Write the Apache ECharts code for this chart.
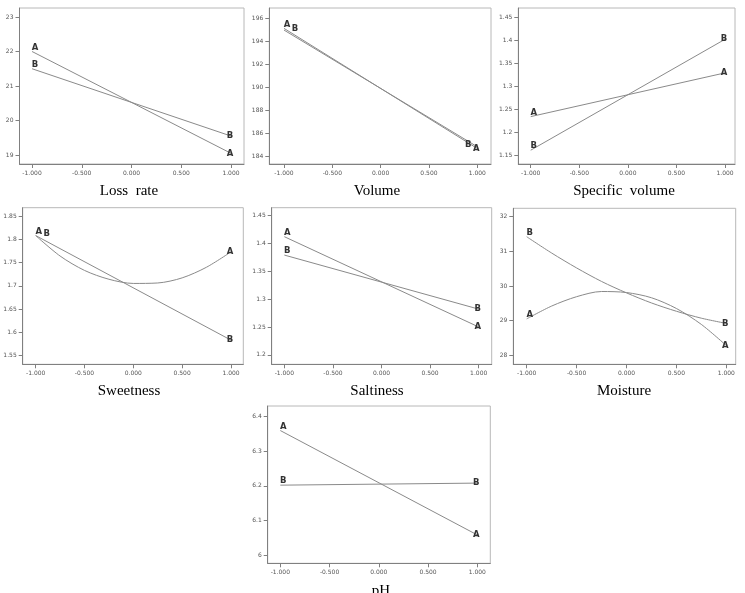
<!DOCTYPE html>
<html><head><meta charset="utf-8">
<script src="https://cdn.jsdelivr.net/npm/echarts@6/dist/echarts.min.js"></script>
<style>html,body{margin:0;padding:0;background:#fff}#c{width:745px;height:593px}</style>
</head><body><div id="c"></div>
<script>
// ---- data ----
const xEnds = [-1, 1];
const xCurve = [-1, -0.75, -0.5, -0.25, 0, 0.25, 0.5, 0.75, 1];
const xTicks = [-1, -0.5, 0, 0.5, 1];
const titles = ['Loss  rate', 'Volume', 'Specific  volume', 'Sweetness', 'Saltiness', 'Moisture', 'pH'];

const lossA = [22.0, 19.05];
const lossB = [21.5, 19.55];
const volA = [195.1, 184.65];
const volB = [194.95, 184.8];
const specA = [1.234, 1.329];
const specB = [1.161, 1.402];
const sweetA = [1.808, 1.764, 1.733, 1.714, 1.705, 1.706, 1.717, 1.740, 1.773];
const sweetB = [1.808, 1.583];
const saltA = [1.412, 1.250];
const saltB = [1.379, 1.282];
const moistA = [29.05, 29.42, 29.69, 29.84, 29.81, 29.66, 29.35, 28.89, 28.28];
const moistB = [31.42, 30.95, 30.52, 30.13, 29.80, 29.51, 29.27, 29.07, 28.92];
const phA = [6.36, 6.058];
const phB = [6.202, 6.208];

const yTicksLoss = [19, 20, 21, 22, 23];
const yTicksVol = [184, 186, 188, 190, 192, 194, 196];
const yTicksSpec = [1.15, 1.2, 1.25, 1.3, 1.35, 1.4, 1.45];
const yTicksSweet = [1.55, 1.6, 1.65, 1.7, 1.75, 1.8, 1.85];
const yTicksSalt = [1.2, 1.25, 1.3, 1.35, 1.4, 1.45];
const yTicksMoist = [28, 29, 30, 31, 32];
const yTicksPh = [6, 6.1, 6.2, 6.3, 6.4];

// ---- layout ----
const panels = [
  {box:[19.5, 8, 244, 164],   xr:[-1.126, 1.131], yr:[18.74, 23.26], yt:yTicksLoss,  A:lossA,  B:lossB,  ax:xEnds,  bx:xEnds, t:[124, 188]},
  {box:[269.3, 8, 491, 164],  xr:[-1.152, 1.142], yr:[183.3, 196.87], yt:yTicksVol,  A:volA,   B:volB,   ax:xEnds,  bx:xEnds, t:[372, 188], bOff:true},
  {box:[518.3, 8, 735, 164],  xr:[-1.128, 1.103], yr:[1.131, 1.470], yt:yTicksSpec,  A:specA,  B:specB,  ax:xEnds,  bx:xEnds, t:[619, 188]},
  {box:[22.7, 207.7, 243.3, 364.3], xr:[-1.133, 1.126], yr:[1.531, 1.868], yt:yTicksSweet, A:sweetA, B:sweetB, ax:xCurve, bx:xEnds, t:[124, 388], bOffL:true},
  {box:[271.7, 207.7, 491.7, 364.3], xr:[-1.13, 1.134], yr:[1.183, 1.464], yt:yTicksSalt, A:saltA, B:saltB, ax:xEnds, bx:xEnds, t:[372, 388]},
  {box:[513.3, 208.3, 735.7, 364.3], xr:[-1.134, 1.094], yr:[27.74, 32.24], yt:yTicksMoist, A:moistA, B:moistB, ax:xCurve, bx:xCurve, t:[619, 388]},
  {box:[267.7, 406, 490.3, 563.3], xr:[-1.128, 1.132], yr:[5.976, 6.431], yt:yTicksPh, A:phA, B:phB, ax:xEnds, bx:xEnds, t:[376, 588]}
];

const grid = [], xAxis = [], yAxis = [], series = [], title = [];
const axisGray = '#808080';

function mkData(xs, ys, name, leftOff, rightOff) {
  return ys.map((y, i) => {
    const item = {value: [xs[i], y]};
    if (i === 0 || i === ys.length - 1) {
      item.label = {show: true, formatter: name, position: 'inside',
        offset: i === 0 ? leftOff : rightOff,
        color: '#333', fontSize: 8.5, fontWeight: 'bold', fontFamily: 'DejaVu Sans'};
    }
    return item;
  });
}

panels.forEach((p, k) => {
  const [L, T, R, B] = p.box;
  grid.push({left: L, top: T, width: R - L, height: B - T, show: true,
    borderColor: '#b8b8b8', borderWidth: 1, backgroundColor: '#fff'});
  xAxis.push({type: 'value', gridIndex: k, min: p.xr[0], max: p.xr[1],
    axisLine: {show: true, onZero: false, lineStyle: {color: axisGray}},
    axisTick: {show: true, customValues: xTicks, length: 4, lineStyle: {color: axisGray}},
    axisLabel: {customValues: xTicks, formatter: v => v.toFixed(3), fontSize: 6, color: '#555', margin: 6, fontFamily: 'DejaVu Sans'},
    splitLine: {show: false}});
  yAxis.push({type: 'value', gridIndex: k, min: p.yr[0], max: p.yr[1],
    axisLine: {show: true, onZero: false, lineStyle: {color: axisGray}},
    axisTick: {show: true, customValues: p.yt, length: 4, lineStyle: {color: axisGray}},
    axisLabel: {customValues: p.yt, formatter: v => String(+v.toFixed(2)), fontSize: 6, color: '#555', margin: 6, fontFamily: 'DejaVu Sans'},
    splitLine: {show: false}});
  const common = {type: 'line', xAxisIndex: k, yAxisIndex: k, symbol: 'circle', symbolSize: 1,
    itemStyle: {color: 'rgba(0,0,0,0)'}, lineStyle: {color: '#8a8a8a', width: 1}, silent: true, animation: false, z: 3};
  series.push(Object.assign({}, common, {smooth: p.ax.length > 2 ? 0.3 : false, data: mkData(p.ax, p.A, 'A', [3, -4], [-1, 0])}));
  const bl = p.bOffL ? [11, -2] : [3, -4];
  const br = p.bOff ? [-9, -2] : [-1, 0];
  series.push(Object.assign({}, common, {smooth: p.bx.length > 2 ? 0.3 : false, data: mkData(p.bx, p.B, 'B', p.bOff ? [11, -1] : bl, br)}));
  title.push({text: titles[k], left: p.t[0], top: p.t[1] - 9, textAlign: 'center',
    textStyle: {fontFamily: 'Liberation Serif', fontSize: 15, fontWeight: 'normal', color: '#000'}});
});

const chart = echarts.init(document.getElementById('c'), null, {renderer: 'canvas'});
chart.setOption({animation: false, backgroundColor: '#fff', title, grid, xAxis, yAxis, series});
</script>
</body></html>
